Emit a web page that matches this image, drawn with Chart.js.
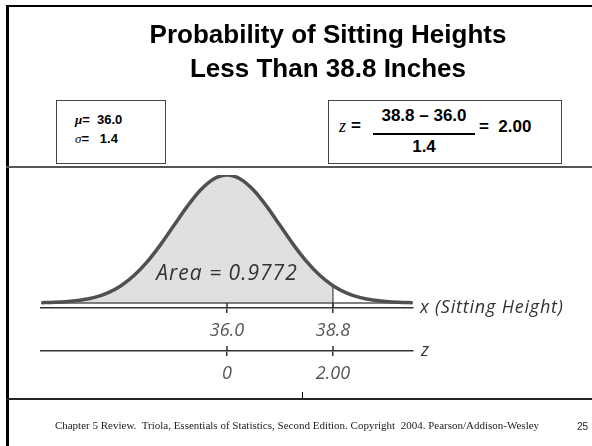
<!DOCTYPE html>
<html lang="en">
<head>
<meta charset="utf-8">
<title>Probability of Sitting Heights</title>
<script src="https://cdn.jsdelivr.net/npm/chart.js@4.4.1/dist/chart.umd.min.js"></script>
<style>
  html, body { margin: 0; padding: 0; background: #fff; }
  #slide { position: relative; width: 592px; height: 446px; overflow: hidden; font-family: "Liberation Sans", Arial, sans-serif; }
  #grafico { position: absolute; left: 0; top: 0; }
  .linha { position: absolute; }
  .titulo { position: absolute; left: 328px; top: 17px; transform: translateX(-50%); white-space: nowrap;
            font-weight: bold; font-size: 26px; line-height: 34px; text-align: center; color: #000; }
  .caixa { position: absolute; border: 1px solid #444; background: #fff; }
  .mao { position: absolute; font-family: "Open Sans", sans-serif; font-style: italic; color: #333; white-space: nowrap; }
  .abs { position: absolute; white-space: nowrap; }
</style>
</head>
<body>
<div id="slide">
  <canvas id="grafico" width="592" height="446"></canvas>

  <!-- moldura do slide -->
  <div class="linha" style="left:6px; top:5px; right:0; height:2px; background:#000;"></div>
  <div class="linha" style="left:6px; top:5px; bottom:0; width:3px; background:#000;"></div>
  <div class="linha" style="left:6px; top:166px; right:0; height:2px; background:#555;"></div>
  <div class="linha" style="left:6px; top:398px; right:0; height:2px; background:#222;"></div>
  <div class="linha" style="left:302px; top:392px; width:1px; height:6px; background:#000;"></div>

  <div class="titulo">Probability of Sitting Heights<br>Less Than 38.8 Inches</div>

  <div class="caixa" style="left:56px; top:100px; width:108px; height:62px;">
    <div class="abs" style="left:18px; top:9px; font-size:13px; font-weight:bold; line-height:19px;">
      <i style="font-family:'Liberation Serif',serif;">&mu;</i>= &nbsp;36.0<br>
      <i style="font-family:'Liberation Serif',serif; font-weight:normal;">&sigma;</i>= &nbsp;&nbsp;1.4
    </div>
  </div>

  <div class="caixa" style="left:328px; top:100px; width:232px; height:62px;">
    <span class="abs" style="left:10px; top:15px; font-family:'Liberation Serif',serif; font-style:italic; font-size:18px;">z</span>
    <span class="abs" style="left:22px; top:15px; font-size:17px; font-weight:bold;">=</span>
    <span class="abs" style="left:44px; top:5px; width:102px; text-align:center; font-size:17px; font-weight:bold;">38.8 &ndash; 36.0</span>
    <div class="linha" style="left:44px; top:32px; width:102px; height:1.5px; background:#000;"></div>
    <span class="abs" style="left:44px; top:36px; width:102px; text-align:center; font-size:17px; font-weight:bold;">1.4</span>
    <span class="abs" style="left:150px; top:16px; font-size:17px; font-weight:bold;">= &nbsp;2.00</span>
  </div>

  <div class="mao" style="left:227px; top:258px; transform:translateX(-50%); font-size:21px; letter-spacing:1px;">Area = 0.9772</div>
  <div class="mao" style="left:420px; top:294px; font-size:18px; letter-spacing:0.8px;">x (Sitting Height)</div>
  <div class="mao" style="left:421px; top:337px; font-size:18px;">z</div>

  <div class="abs" style="left:297px; top:419px; transform:translateX(-50%); font-family:'Liberation Serif',serif; font-size:11px; color:#222;">Chapter 5 Review.&nbsp; Triola, Essentials of Statistics, Second Edition. Copyright&nbsp; 2004. Pearson/Addison-Wesley</div>
  <div class="abs" style="left:577px; top:421px; font-size:10px; color:#222;">25</div>
</div>

<script>
// valores (escala z)
const zValores = [-3.5, -3.25, -3, -2.75, -2.5, -2.25, -2, -1.75, -1.5, -1.25, -1, -0.75, -0.5, -0.25,
  0, 0.25, 0.5, 0.75, 1, 1.25, 1.5, 1.75, 2, 2.25, 2.5, 2.75, 3, 3.25, 3.5];
const densidade = [0.0009, 0.0020, 0.0044, 0.0091, 0.0175, 0.0317, 0.0540, 0.0863, 0.1295, 0.1826, 0.2420, 0.3011, 0.3521, 0.3867,
  0.3989, 0.3867, 0.3521, 0.3011, 0.2420, 0.1826, 0.1295, 0.0863, 0.0540, 0.0317, 0.0175, 0.0091, 0.0044, 0.0020, 0.0009];
const corteZ = 2.00;
const ticksZ = [0, 2];
const rotulosX = ['36.0', '38.8'];
const rotulosZ = ['0', '2.00'];

const zMin = -3.51, zMax = 3.51;
const yMin = -0.0156, yMax = 0.3989;

const curva = zValores.map((z, i) => ({ x: z, y: densidade[i] }));
const area = curva.filter(p => p.x <= corteZ);
const alturaCorte = densidade[zValores.indexOf(corteZ)];

const fonteMao = { family: 'Open Sans', style: 'italic', size: 18 };

// ticks que cruzam o eixo (para cima também)
const ticksCruzados = {
  id: 'ticksCruzados',
  afterDraw(chart) {
    const ctx = chart.ctx;
    ['x', 'xz'].forEach(id => {
      const s = chart.scales[id];
      ctx.save();
      ctx.strokeStyle = '#333';
      ctx.lineWidth = 1.5;
      s.ticks.forEach(t => {
        const px = s.getPixelForValue(t.value);
        ctx.beginPath();
        ctx.moveTo(px, s.top - 5);
        ctx.lineTo(px, s.top);
        ctx.stroke();
      });
      ctx.restore();
    });
  }
};

function eixo(rotulos, altura) {
  return {
    type: 'linear',
    position: 'bottom',
    axis: 'x',
    min: zMin,
    max: zMax,
    afterBuildTicks: s => { s.ticks = ticksZ.map(v => ({ value: v })); },
    afterFit: s => { s.height = altura; },
    ticks: {
      autoSkip: false,
      maxRotation: 0,
      padding: 7,
      color: '#555',
      font: fonteMao,
      callback: (v, i) => rotulos[i]
    },
    grid: { drawOnChartArea: false, drawTicks: true, tickLength: 5, color: '#333', lineWidth: 1.5 },
    border: { display: true, color: '#333', width: 1.5 }
  };
}

new Chart(document.getElementById('grafico'), {
  type: 'line',
  data: {
    datasets: [
      {
        label: 'curva',
        data: curva,
        borderColor: '#505050',
        borderWidth: 3.5,
        fill: false,
        pointRadius: 0,
        cubicInterpolationMode: 'monotone',
        order: 0
      },
      {
        label: 'corte',
        data: [{ x: corteZ, y: yMin }, { x: corteZ, y: alturaCorte }],
        borderColor: '#222',
        borderWidth: 1,
        pointRadius: 0,
        fill: false,
        order: 1
      },
      {
        label: 'base',
        data: [{ x: zMin, y: 0 }, { x: zMax, y: 0 }],
        borderColor: '#555',
        borderWidth: 1.5,
        pointRadius: 0,
        fill: false,
        order: 2
      },
      {
        label: 'area',
        data: area,
        borderWidth: 0,
        borderColor: 'rgba(0,0,0,0)',
        backgroundColor: '#e0e0e0',
        fill: 'origin',
        pointRadius: 0,
        cubicInterpolationMode: 'monotone',
        order: 3
      }
    ]
  },
  options: {
    responsive: false,
    animation: false,
    layout: { padding: { left: 41, right: 179, top: 175, bottom: 55 } },
    plugins: { legend: { display: false }, tooltip: { enabled: false } },
    scales: {
      x: eixo(rotulosX, 43),
      xz: eixo(rotulosZ, 40),
      y: { type: 'linear', display: false, min: yMin, max: yMax }
    }
  },
  plugins: [ticksCruzados]
});
</script>
</body>
</html>
